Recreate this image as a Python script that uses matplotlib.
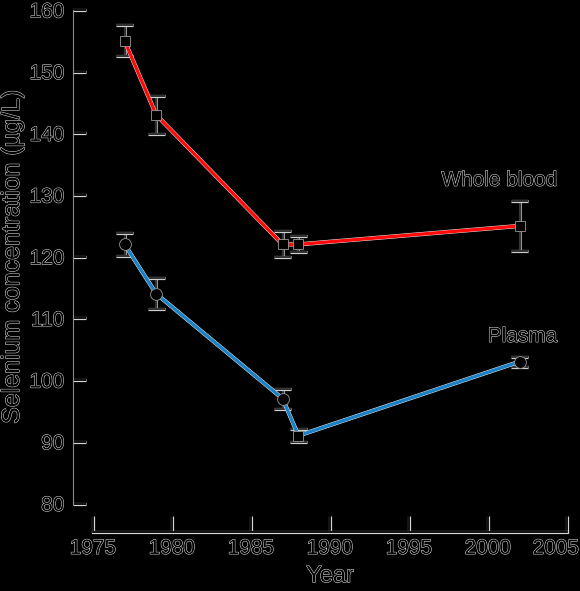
import matplotlib
matplotlib.use("Agg")
import matplotlib.pyplot as plt
import matplotlib.patheffects as pe
from matplotlib.transforms import ScaledTranslation

# values
years = [1977, 1979, 1987, 1988, 2002]
blood = [155, 143, 122, 122, 125]
blood_err = [2.5, 3.1, 2.1, 1.3, 4.0]
plasma = [122, 114, 97, 91, 103]
plasma_err = [1.9, 2.5, 1.6, 1.0, 0.8]
plasma_marks = ['o', 'o', 'o', 's', 'o']

x_ticks = [1975, 1980, 1985, 1990, 1995, 2000, 2005]
y_ticks = [80, 90, 100, 110, 120, 130, 140, 150, 160]

plt.rcParams['font.family'] = ['Liberation Sans', 'DejaVu Sans']

# black glyphs with a thin light rim, like the reference
halo = [pe.withStroke(linewidth=0.75, foreground='#dedede')]
line_halo = [pe.withStroke(linewidth=3.0, foreground='#f4f4f4')]
tick_halo = [pe.withStroke(linewidth=2.3, foreground='#d6d6d6')]

fig = plt.figure(figsize=(5.8, 5.91), dpi=100, facecolor='black')
ax = fig.add_axes([93 / 580, 1 - 503.5 / 591, 474 / 580, 493.5 / 591])
ax.set_facecolor('black')

# error bars first, then the lines, markers on top
for vals, errs in [(blood, blood_err), (plasma, plasma_err)]:
    eb = ax.errorbar(years, vals, yerr=errs, fmt='none', ecolor='#333333',
                     elinewidth=1.5, capsize=6, capthick=1.5, zorder=2)
    for cap in eb[1]:
        cap.set_path_effects(tick_halo)
    for col in eb[2]:
        col.set_path_effects([pe.withStroke(linewidth=2.2, foreground='#9a9a9a')])

ax.plot(years, blood, color='#ff0a0a', lw=2.4, zorder=3, path_effects=line_halo)
ax.plot(years, plasma, color='#1b80c4', lw=2.4, zorder=3, path_effects=line_halo)

ax.plot(years, blood, ls='none', marker='s', ms=7, mfc='black',
        mec='#9a9a9a', mew=0.6, zorder=4)
for x, y, m in zip(years, plasma, plasma_marks):
    ax.plot([x], [y], ls='none', marker=m, ms=8.5 if m == 'o' else 7,
            mfc='black', mec='#9a9a9a', mew=0.6, zorder=4)

ax.text(2004.4, 131.5, 'Whole blood', ha='right', va='baseline',
        fontsize=15, color='black', path_effects=halo)
ax.text(2004.4, 106.2, 'Plasma', ha='right', va='baseline',
        fontsize=15, color='black', path_effects=halo)

ax.set_xlim(1975, 2005)
ax.set_ylim(80, 160)
ax.set_xticks(x_ticks)
ax.set_yticks(y_ticks)

for s in ['top', 'right']:
    ax.spines[s].set_visible(False)
ax.spines['left'].set_position(('outward', 14.5))
ax.spines['left'].set_bounds(80, 160)
ax.spines['left'].set_color('#8a8a8a')
ax.spines['left'].set_linewidth(0.8)
ax.spines['bottom'].set_position(('outward', 20.5))
ax.spines['bottom'].set_bounds(1975, 2005)
ax.spines['bottom'].set_color('black')
ax.spines['bottom'].set_linewidth(1.3)
ax.spines['bottom'].set_path_effects(tick_halo)

ax.tick_params(axis='y', direction='in', length=9.4, width=1.3, color='black',
               labelsize=15, labelcolor='black', pad=6)
ax.tick_params(axis='x', direction='in', length=11.5, width=1.3, color='black',
               labelsize=15, labelcolor='black', pad=5)
for t in ax.xaxis.get_ticklines() + ax.yaxis.get_ticklines():
    t.set_path_effects(tick_halo)
for lbl in ax.get_xticklabels() + ax.get_yticklabels():
    lbl.set_path_effects(halo)

# the last year label sits a little left of its tick in the reference
last = ax.get_xticklabels()[-1]
last.set_transform(last.get_transform()
                   + ScaledTranslation(-8 / 72, 0, fig.dpi_scale_trans))

ax.set_xlabel('Year', fontsize=17, color='black', path_effects=halo)
ax.set_ylabel('Selenium concentration (\u00b5g/L)', fontsize=18,
              color='black', path_effects=halo)
ax.xaxis.set_label_coords(0.5, -0.125)
ax.yaxis.set_label_coords(-0.1456, 0.5)

fig.savefig('out.png', dpi=100, facecolor='black')
